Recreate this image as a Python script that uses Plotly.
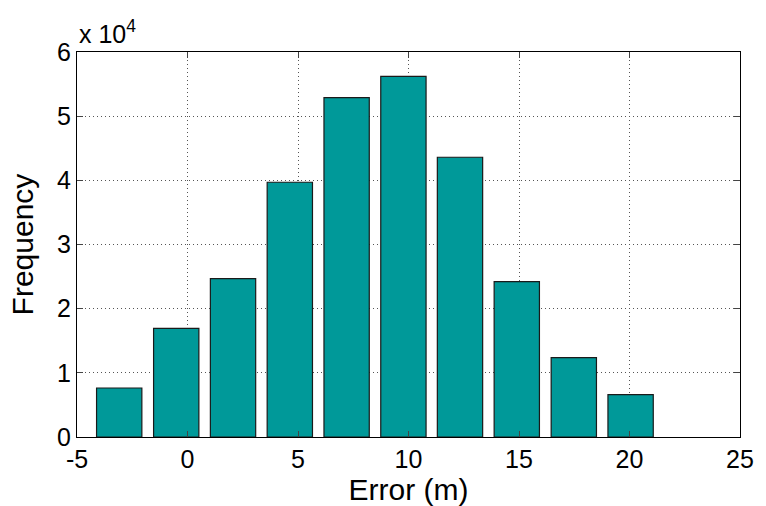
import plotly.graph_objects as go

bin_centers = [-3.09, -0.51, 2.06, 4.63, 7.20, 9.77, 12.33, 14.90, 17.48, 20.05]
frequency = [7640, 16940, 24670, 39700, 52900, 56200, 43600, 24200, 12360, 6600]
x_ticks = [-5, 0, 5, 10, 15, 20, 25]
x_tick_text = ["-5", "0", "5", "10", "15", "20", "25"]
y_ticks = [0, 10000, 20000, 30000, 40000, 50000, 60000]
y_tick_text = ["0", "1", "2", "3", "4", "5", "6"]

fig = go.Figure()
fig.add_trace(go.Bar(
    x=bin_centers, y=frequency,
    marker=dict(color="#009999", line=dict(color="#1a1a1a", width=1.2)),
    width=2.05,
))

font = dict(family="Liberation Sans, Arial, sans-serif", size=25, color="black")
grid = dict(showgrid=True, gridcolor="#555555", griddash="1px,3px", gridwidth=1)
fig.update_layout(
    width=766, height=506,
    margin=dict(l=77, r=19, t=52, b=69),
    paper_bgcolor="white", plot_bgcolor="white",
    font=font, showlegend=False,
    xaxis=dict(
        range=[-5, 25], tickvals=x_ticks, ticktext=x_tick_text,
        ticks="inside", ticklen=6, ticklabeloverflow="allow",
        showline=True, linecolor="black", linewidth=1, mirror="ticks",
        zeroline=False, title=dict(text="Error (m)", standoff=0),
        tickfont=font, **grid,
    ),
    yaxis=dict(
        range=[0, 60000], tickvals=y_ticks, ticktext=y_tick_text,
        ticks="inside", ticklen=6,
        showline=True, linecolor="black", linewidth=1, mirror="ticks",
        zeroline=False, title=dict(text="Frequency", standoff=14),
        tickfont=font, **grid,
    ),
    annotations=[dict(
        text="x 10<sup>4</sup>", xref="paper", yref="paper", x=0, y=1,
        xanchor="left", yanchor="bottom", showarrow=False, font=font, yshift=2,
    )],
)
fig.write_html(
    "out.html", config={"displayModeBar": False},
    post_script=("document.body.style.margin='0';"
                 "document.body.style.overflow='hidden';"
                 "document.documentElement.style.overflow='hidden';"),
)
